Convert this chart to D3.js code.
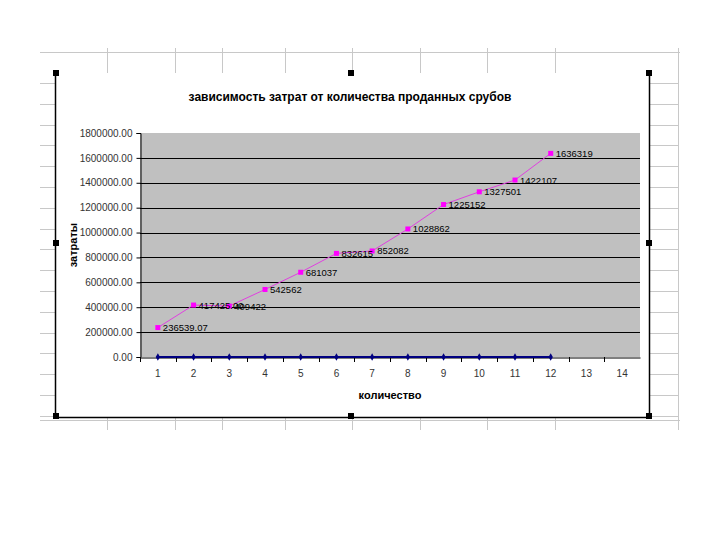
<!DOCTYPE html>
<html><head><meta charset="utf-8">
<script src="https://cdn.jsdelivr.net/npm/d3@7"></script>
<style>body{margin:0;background:#fff}svg{display:block}</style>
</head><body>
<svg id="c" width="720" height="540"></svg>
<script>
const categories = [1,2,3,4,5,6,7,8,9,10,11,12,13,14];
const costs = [236539.07,417425,409422,542562,681037,832615,852082,1028862,1225152,1327501,1422107,1636319];
const costLabels = ["236539.07","417425.00","409422","542562","681037","832615","852082","1028862","1225152","1327501","1422107","1636319"];
const zeroSeries = [0,0,0,0,0,0,0,0,0,0,0,0];
const yTicks = [0,200000,400000,600000,800000,1000000,1200000,1400000,1600000,1800000];
const title = "зависимость  затрат от количества проданных срубов";
const xTitle = "количество";
const yTitle = "затраты";

const svg = d3.select("#c");
const font = "'Liberation Sans', Arial, sans-serif";

// spreadsheet background grid
const g0 = svg.append("g").attr("stroke","#c8c8c8").attr("stroke-width",1);
g0.append("line").attr("x1",40).attr("x2",680).attr("y1",52.5).attr("y2",52.5);
g0.append("line").attr("x1",40).attr("x2",680).attr("y1",420.5).attr("y2",420.5);
g0.append("line").attr("x1",678.5).attr("x2",678.5).attr("y1",48).attr("y2",430);
const colX = [107,175,222,285,352,420,487,555];
colX.forEach(x=>{
  g0.append("line").attr("x1",x+.5).attr("x2",x+.5).attr("y1",48).attr("y2",73);
  g0.append("line").attr("x1",x+.5).attr("x2",x+.5).attr("y1",418).attr("y2",430);
});
d3.range(83,418,20.8).forEach(y=>{
  const yy=Math.round(y)+.5;
  g0.append("line").attr("x1",40).attr("x2",55).attr("y1",yy).attr("y2",yy);
  g0.append("line").attr("x1",650).attr("x2",678).attr("y1",yy).attr("y2",yy);
});

// chart frame
const fr = svg.append("g").attr("stroke","#000").attr("stroke-width",1.5);
fr.append("line").attr("x1",55.5).attr("x2",55.5).attr("y1",73).attr("y2",418);
fr.append("line").attr("x1",649.5).attr("x2",649.5).attr("y1",73).attr("y2",418);
fr.append("line").attr("x1",55).attr("x2",650).attr("y1",417.5).attr("y2",417.5);
[[56,73],[351,73],[649,73],[56,243],[649,243],[56,416],[351,416],[649,416]].forEach(([x,y])=>{
  svg.append("rect").attr("x",x-3).attr("y",y-3).attr("width",6).attr("height",6).attr("fill","#000");
});

// scales
const x = d3.scaleBand().domain(categories).range([140,640]);
const y = d3.scaleLinear().domain([0,1800000]).range([357,133]);
const cx = d => x(d)+x.bandwidth()/2;

// plot area
svg.append("rect").attr("x",140).attr("y",133).attr("width",500).attr("height",224).attr("fill","#c0c0c0");
svg.append("g").selectAll("line").data(yTicks.slice(1,-1)).join("line")
  .attr("x1",140).attr("x2",640).attr("y1",d=>Math.round(y(d))+.5).attr("y2",d=>Math.round(y(d))+.5)
  .attr("stroke","#000").attr("stroke-width",1);

// axes
const yAxis = svg.append("g").attr("transform","translate(140.5,0)")
  .call(d3.axisLeft(y).tickValues(yTicks).tickSize(4).tickFormat(d=>d3.format(".2f")(d)));
yAxis.select(".domain").attr("stroke","#000");
yAxis.selectAll("text").attr("font-family",font).attr("font-size",10).attr("fill","#333").attr("dx",-1);

const xAxis = svg.append("g").attr("transform","translate(0,357.5)")
  .call(d3.axisBottom(x).tickSize(0).tickPadding(12));
xAxis.select(".domain").attr("stroke","#000");
xAxis.selectAll("text").attr("font-family",font).attr("font-size",10).attr("fill","#333");
svg.append("g").selectAll("line").data(categories).join("line")
  .attr("x1",d=>Math.round(x(d))+.5).attr("x2",d=>Math.round(x(d))+.5)
  .attr("y1",357).attr("y2",362).attr("stroke","#000");

// zero series
const line0 = d3.line().x((d,i)=>cx(categories[i])).y(d=>y(d));
svg.append("path").datum(zeroSeries).attr("d",line0).attr("fill","none").attr("stroke","#000080").attr("stroke-width",2);
svg.append("g").selectAll("path").data(zeroSeries).join("path")
  .attr("d",d3.symbol(d3.symbolDiamond,16))
  .attr("transform",(d,i)=>`translate(${cx(categories[i])},${y(d)})`).attr("fill","#000080");

// cost series
svg.append("path").datum(costs).attr("d",line0).attr("fill","none").attr("stroke","#e040e0").attr("stroke-width",1);
svg.append("g").selectAll("rect").data(costs).join("rect")
  .attr("x",(d,i)=>cx(categories[i])-2.5).attr("y",d=>y(d)-2.5).attr("width",5).attr("height",5).attr("fill","#ff00ff");
svg.append("g").selectAll("text").data(costs).join("text")
  .attr("x",(d,i)=>cx(categories[i])+5).attr("y",d=>y(d)+3.5)
  .attr("font-family",font).attr("font-size",9.5).attr("fill","#000")
  .text((d,i)=>costLabels[i]);

// titles
svg.append("text").attr("x",350).attr("y",101).attr("text-anchor","middle")
  .attr("font-family",font).attr("font-size",12).attr("font-weight","bold").text(title);
svg.append("text").attr("x",390).attr("y",399).attr("text-anchor","middle")
  .attr("font-family",font).attr("font-size",11).attr("font-weight","bold").text(xTitle);
svg.append("text").attr("transform","translate(77,245) rotate(-90)").attr("text-anchor","middle")
  .attr("font-family",font).attr("font-size",11).attr("font-weight","bold").text(yTitle);
</script>
</body></html>
